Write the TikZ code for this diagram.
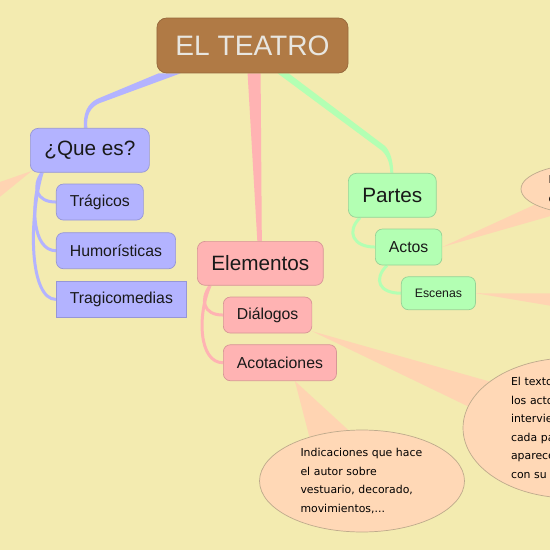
\documentclass[tikz,border=0pt]{standalone}
\usepackage{fontspec}
\setmainfont{Liberation Sans}
\newfontfamily\notefont{DejaVu Sans}
\usepackage{tikz}
\usetikzlibrary{positioning,calc,shapes.geometric,backgrounds}

\definecolor{bgyel}{RGB}{243,235,176}
\definecolor{rootbrown}{RGB}{176,122,69}
\definecolor{rootbrownline}{RGB}{150,104,60}
\definecolor{roottext}{RGB}{232,230,224}
\definecolor{lila}{RGB}{179,179,255}
\definecolor{lilaline}{RGB}{150,150,215}
\definecolor{rosa}{RGB}{255,179,179}
\definecolor{rosaline}{RGB}{215,150,150}
\definecolor{verde}{RGB}{179,255,179}
\definecolor{verdeline}{RGB}{150,210,150}
\definecolor{peach}{RGB}{255,216,182}
\definecolor{peachline}{RGB}{190,170,140}
\definecolor{calloutc}{RGB}{255,212,178}

\begin{document}
\begin{tikzpicture}[
  x=0.02cm, y=-0.02cm,
  every node/.style={text=black!90},
  rootbox/.style={draw=rootbrownline, fill=rootbrown, rounded corners=5.5pt,
                  text=roottext, font=\fontsize{16}{19}\selectfont,
                  minimum height=1.1cm, inner xsep=0.37cm},
  lvone/.style={draw=#1line, fill=#1, rounded corners=4.5pt,
                font=\fontsize{11.8}{14}\selectfont,
                minimum height=0.88cm, inner xsep=0.28cm},
  lvtwo/.style={draw=#1line, fill=#1, rounded corners=4pt,
                font=\fontsize{9}{11}\selectfont,
                minimum height=0.72cm, inner xsep=0.27cm},
  lvthree/.style={draw=#1line, fill=#1, rounded corners=4pt,
                  font=\fontsize{7}{9}\selectfont,
                  minimum height=0.66cm, inner xsep=0.27cm},
  note/.style={ellipse, draw=peachline, fill=peach, inner sep=0pt, align=left,
               text=black, font=\notefont\fontsize{6.2}{10.5}\selectfont},
  callout/.style={fill=calloutc},
  twig/.style={draw=#1, line width=1.7pt},
]
\useasboundingbox (0,0) rectangle (550,550);

%% ---- root ----
\node[rootbox] (root) at (252.5,45.5) {EL TEATRO};

%% ---- ¿Que es? ----
\node[lvone=lila, anchor=north west] (quees) at (30,128) {¿Que es?};
\node[lvtwo=lila, below right=0.22cm and 0.52cm of quees.south west] (trag) {Trágicos};
\node[lvtwo=lila, below right=0.24cm and 0cm of trag.south west] (humor) {Humorísticas};
\node[lvtwo=lila, rounded corners=0pt,
      below right=0.24cm and 0cm of humor.south west] (tragic) {Tragicomedias};

%% ---- Elementos ----
\node[lvone=rosa, anchor=north west] (elem) at (197,241) {Elementos};
\node[lvtwo=rosa, below right=0.22cm and 0.52cm of elem.south west] (dial) {Diálogos};
\node[lvtwo=rosa, below right=0.22cm and 0cm of dial.south west] (acot) {Acotaciones};

%% ---- Partes ----
\node[lvone=verde, anchor=north west] (partes) at (348,173) {Partes};
\node[lvtwo=verde, below right=0.22cm and 0.54cm of partes.south west] (actos) {Actos};
\node[lvthree=verde, below right=0.22cm and 0.52cm of actos.south west] (escenas) {Escenas};

%% ---- notes ----
\node[note, minimum width=4.1cm, minimum height=2.04cm, text width=2.46cm]
  (indic) at (362,481)
  {Indicaciones que hace\\el autor sobre\\vestuario, decorado,\\movimientos,...};
\node[note, inner ysep=-2pt, minimum width=4.28cm, minimum height=2.8cm,
      text width=2.36cm] (texto) at (570,428)
  {El texto que dicen\\los actores que\\intervienen en\\cada parlamento\\aparece junto\\con su nombre};
\node[note, minimum width=2.6cm, minimum height=1cm, text width=1.5cm]
  (divis) at (586,189) {En que se\\divide la obra};

\coordinate (qeout1) at (-20,189);
\coordinate (qeout2) at (-20,213);
\coordinate (esout1) at (570,293.5);
\coordinate (esout2) at (570,309);

\begin{scope}[on background layer]
  \fill[bgyel] (0,0) rectangle (550,550);

  %% ---- callouts ----
  \fill[callout] ([xshift=1pt,yshift=1pt]quees.south west) -- (qeout1) -- (qeout2) -- cycle;
  \fill[callout] ([xshift=0.3cm]acot.south) -- (indic.140) -- (indic.105) -- cycle;
  \fill[callout] (dial.-20) -- (texto.150) -- (texto.168) -- cycle;
  \fill[callout] (actos.east) -- (divis.197) -- (divis.225) -- cycle;
  \fill[callout] (escenas.east) -- (esout1) -- (esout2) -- cycle;

  %% ---- main branches ----
  \fill[lila] ($(root.south west)+(2,0)$) -- (97,99) .. controls (87,104) and (83,114)
    .. ($(quees.north)+(-6,0)$) -- ($(quees.north)+(-2.5,0)$)
    .. controls (86,116) and (90,107) .. (100,103)
    -- ($(root.south west)+(24,0)$) -- cycle;
  \fill[rosa] ($(root.south west)+(91,0)$) -- ($(elem.north)+(-3,0)$)
    -- ($(elem.north)+(1.5,0)$) -- ($(root.south west)+(104,0)$) -- cycle;
  \fill[verde] ($(root.south west)+(121,0)$) -- (381,150)
    .. controls (387,155) and (390,163) .. ($(partes.north)+(-2,0)$)
    -- ($(partes.north)+(1,0)$) .. controls (393,160) and (390,151) .. (385,146)
    -- ($(root.south west)+(132,0)$) -- cycle;

  %% ---- twigs ----
  \draw[twig=lila] ($(quees.south west)+(12,0)$) .. controls +(-10,14) and +(-20,0) .. (trag.west);
  \draw[twig=lila] ($(quees.south west)+(12,0)$) .. controls +(-12,30) and +(-24,0) .. (humor.west);
  \draw[twig=lila] ($(quees.south west)+(12,0)$) .. controls +(-14,50) and +(-26,0) .. (tragic.west);
  \draw[twig=rosa] ($(elem.south west)+(13,0)$) .. controls +(-10,14) and +(-20,0) .. (dial.west);
  \draw[twig=rosa] ($(elem.south west)+(13,0)$) .. controls +(-13,30) and +(-24,0) .. (acot.west);
  \draw[twig=verde] ($(partes.south west)+(12,0)$) .. controls +(-14,14) and +(-22,0) .. (actos.west);
  \draw[twig=verde] ($(actos.south west)+(12,0)$) .. controls +(-14,14) and +(-22,0) .. (escenas.west);
\end{scope}
\end{tikzpicture}
\end{document}
